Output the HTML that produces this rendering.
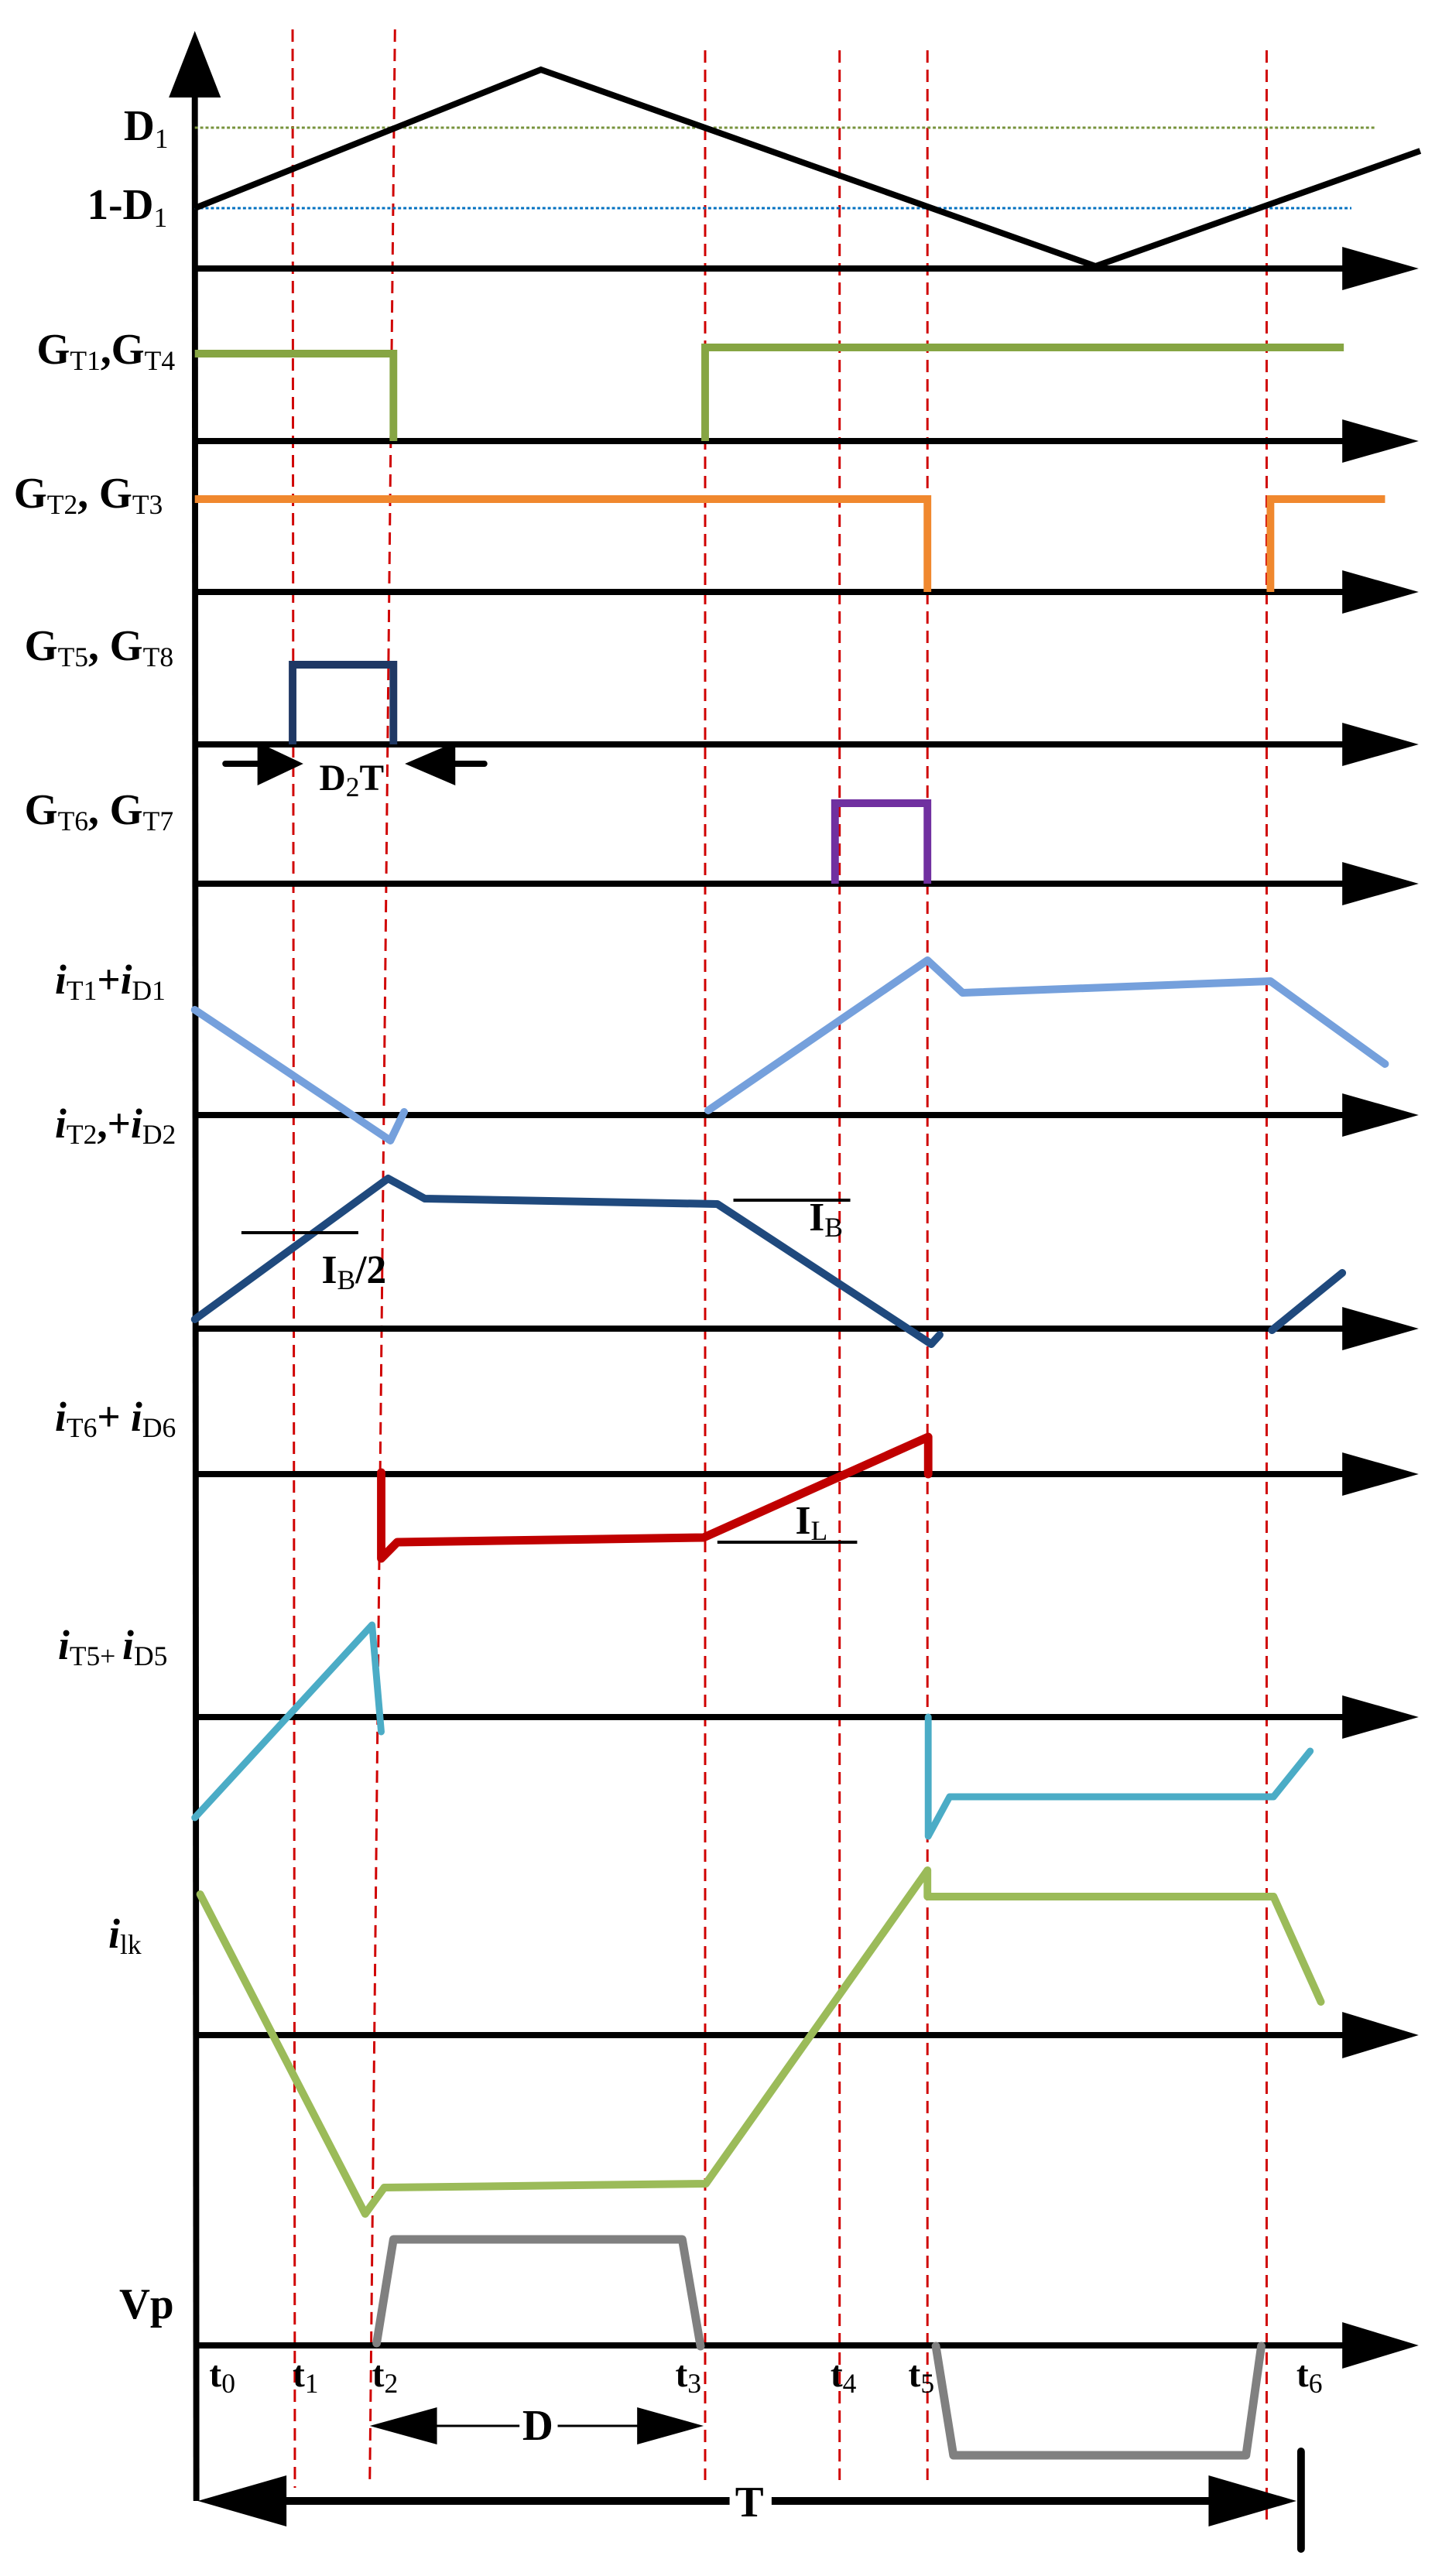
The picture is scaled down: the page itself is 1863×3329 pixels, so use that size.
<!DOCTYPE html>
<html><head><meta charset="utf-8"><style>
html,body{margin:0;padding:0;background:#fff;}
svg{display:block;}
text{font-family:"Liberation Serif",serif;font-weight:bold;fill:#000;}
.s{font-weight:normal;font-size:36px;}
</style></head><body>
<svg width="1863" height="3329" viewBox="0 0 1863 3329" xmlns="http://www.w3.org/2000/svg">
<g transform="scale(0.987 1)">
<!-- red dashed lines -->
<g stroke="#d00000" stroke-width="3" stroke-dasharray="16 9" fill="none">
<line x1="383" y1="38" x2="386" y2="3215"/>
<line x1="517" y1="38" x2="484" y2="3210"/>
<line x1="923" y1="65" x2="923" y2="3205"/>
<line x1="1099" y1="65" x2="1099" y2="3205"/>
<line x1="1214" y1="65" x2="1214" y2="3205"/>
<line x1="1658" y1="65" x2="1658" y2="3258"/>
</g>
<!-- vertical axis -->
<line x1="255" y1="110" x2="257" y2="3232" stroke="#000" stroke-width="8"/>
<polygon points="255,40 221,126 289,126" fill="#000"/>
<!-- horizontal axes -->
<g stroke="#000" stroke-width="8">
<line x1="255" y1="347" x2="1770" y2="347"/>
<line x1="255" y1="570" x2="1770" y2="570"/>
<line x1="255" y1="765" x2="1770" y2="765"/>
<line x1="255" y1="962" x2="1770" y2="962"/>
<line x1="255" y1="1142" x2="1770" y2="1142"/>
<line x1="255" y1="1441" x2="1770" y2="1441"/>
<line x1="255" y1="1717" x2="1770" y2="1717"/>
<line x1="255" y1="1905" x2="1770" y2="1905"/>
<line x1="255" y1="2219" x2="1770" y2="2219"/>
<line x1="255" y1="2630" x2="1770" y2="2630"/>
<line x1="255" y1="3031" x2="1770" y2="3031"/>
</g>
<g fill="#000">
<polygon points="1757,319 1857,347 1757,375"/>
<polygon points="1757,542 1857,570 1757,598"/>
<polygon points="1757,737 1857,765 1757,793"/>
<polygon points="1757,934 1857,962 1757,990"/>
<polygon points="1757,1114 1857,1142 1757,1170"/>
<polygon points="1757,1413 1857,1441 1757,1469"/>
<polygon points="1757,1689 1857,1717 1757,1745"/>
<polygon points="1757,1877 1857,1905 1757,1933"/>
<polygon points="1757,2191 1857,2219 1757,2247"/>
<polygon points="1757,2600 1857,2630 1757,2660"/>
<polygon points="1757,3001 1857,3031 1757,3061"/>
</g>
<!-- reference levels -->
<line x1="255" y1="165" x2="1801" y2="165" stroke="#77933c" stroke-width="3" stroke-dasharray="4 3"/>
<line x1="255" y1="269" x2="1769" y2="269" stroke="#0070c0" stroke-width="3" stroke-dasharray="4 3"/>
<!-- triangle -->
<polyline points="255,269 708,90 1434,344 1859,195" fill="none" stroke="#000" stroke-width="8"/>
<!-- gates -->
<polyline points="255,457 515,457 515,570" fill="none" stroke="#86a543" stroke-width="10"/>
<polyline points="923,570 923,449 1759,449" fill="none" stroke="#86a543" stroke-width="10"/>
<polyline points="255,645 1214,645 1214,765" fill="none" stroke="#f0882e" stroke-width="10"/>
<polyline points="1663,765 1663,645 1813,645" fill="none" stroke="#f0882e" stroke-width="10"/>
<polyline points="383,962 383,859 515,859 515,962" fill="none" stroke="#1f3864" stroke-width="10"/>
<polyline points="1093,1142 1093,1038 1214,1038 1214,1142" fill="none" stroke="#7030a0" stroke-width="10"/>
<!-- D2T arrows -->
<line x1="295" y1="987" x2="350" y2="987" stroke="#000" stroke-width="8" stroke-linecap="round"/>
<polygon points="337,959 397,987 337,1015" fill="#000"/>
<line x1="580" y1="987" x2="634" y2="987" stroke="#000" stroke-width="8" stroke-linecap="round"/>
<polygon points="596,959 530,987 596,1015" fill="#000"/>
<!-- currents -->
<polyline points="255,1305 511,1474 529,1437" fill="none" stroke="#75a0dc" stroke-width="10" stroke-linejoin="round" stroke-linecap="round"/>
<polyline points="927,1435 1214,1241 1260,1283 1663,1268 1813,1375" fill="none" stroke="#75a0dc" stroke-width="10" stroke-linejoin="round" stroke-linecap="round"/>
<polyline points="255,1705 508,1523 556,1549 939,1556 1219,1737 1230,1725" fill="none" stroke="#1f497d" stroke-width="10" stroke-linejoin="round" stroke-linecap="round"/>
<polyline points="1665,1719 1757,1645" fill="none" stroke="#1f497d" stroke-width="10" stroke-linecap="round"/>
<line x1="960" y1="1551" x2="1113" y2="1551" stroke="#000" stroke-width="4"/>
<line x1="316" y1="1593" x2="469" y2="1593" stroke="#000" stroke-width="4"/>
<polyline points="499,1903 499,2014 520,1993 921,1987 1215,1857 1215,1905" fill="none" stroke="#c00000" stroke-width="11" stroke-linejoin="round" stroke-linecap="round"/>
<line x1="939" y1="1993" x2="1122" y2="1993" stroke="#000" stroke-width="4"/>
<polyline points="255,2349 487,2100 499,2238" fill="none" stroke="#4bacc6" stroke-width="9" stroke-linejoin="round" stroke-linecap="round"/>
<polyline points="1215,2219 1215,2373 1243,2322 1667,2322 1715,2263" fill="none" stroke="#4bacc6" stroke-width="9" stroke-linejoin="round" stroke-linecap="round"/>
<polyline points="262,2448 478,2861 503,2827 924,2822 1214,2417 1214,2451 1667,2451 1729,2587" fill="none" stroke="#9bbb59" stroke-width="10" stroke-linejoin="round" stroke-linecap="round"/>
<polyline points="493,3028 515,2894 893,2894 917,3032" fill="none" stroke="#808080" stroke-width="11" stroke-linejoin="round" stroke-linecap="round"/>
<polyline points="1225,3032 1248,3173 1631,3173 1651,3032" fill="none" stroke="#808080" stroke-width="11" stroke-linejoin="round" stroke-linecap="round"/>
<!-- D arrow -->
<line x1="560" y1="3135" x2="846" y2="3135" stroke="#000" stroke-width="3"/>
<polygon points="484,3135 572,3111 572,3159" fill="#000"/>
<polygon points="921,3135 834,3111 834,3159" fill="#000"/>
<rect x="680" y="3105" width="50" height="55" fill="#fff"/>
<!-- T arrow -->
<line x1="330" y1="3232" x2="1630" y2="3232" stroke="#000" stroke-width="10"/>
<polygon points="259,3232 375,3199 375,3265" fill="#000"/>
<polygon points="1697,3232 1582,3199 1582,3265" fill="#000"/>
<line x1="1703" y1="3168" x2="1703" y2="3294" stroke="#000" stroke-width="10" stroke-linecap="round"/>
<rect x="955" y="3205" width="55" height="55" fill="#fff"/>
<!-- labels -->
<text x="162" y="181" font-size="56">D<tspan class="s" dy="10">1</tspan></text>
<text x="114" y="283" font-size="56">1-D<tspan class="s" dy="10">1</tspan></text>
<text x="48" y="470" font-size="56">G<tspan class="s" dy="8">T1</tspan><tspan dy="-8">,G</tspan><tspan class="s" dy="8">T4</tspan></text>
<text x="18" y="656" font-size="56">G<tspan class="s" dy="8">T2</tspan><tspan dy="-8">, G</tspan><tspan class="s" dy="8">T3</tspan></text>
<text x="32" y="853" font-size="56">G<tspan class="s" dy="8">T5</tspan><tspan dy="-8">, G</tspan><tspan class="s" dy="8">T8</tspan></text>
<text x="32" y="1065" font-size="56">G<tspan class="s" dy="8">T6</tspan><tspan dy="-8">, G</tspan><tspan class="s" dy="8">T7</tspan></text>
<text x="418" y="1021" font-size="48">D<tspan class="s" dy="8">2</tspan><tspan dy="-8">T</tspan></text>
<text x="72" y="1284" font-size="54"><tspan font-style="italic">i</tspan><tspan class="s" dy="8">T1</tspan><tspan dy="-8">+</tspan><tspan font-style="italic">i</tspan><tspan class="s" dy="8">D1</tspan></text>
<text x="72" y="1470" font-size="54"><tspan font-style="italic">i</tspan><tspan class="s" dy="8">T2</tspan><tspan dy="-8">,+</tspan><tspan font-style="italic">i</tspan><tspan class="s" dy="8">D2</tspan></text>
<text x="72" y="1849" font-size="54"><tspan font-style="italic">i</tspan><tspan class="s" dy="8">T6</tspan><tspan dy="-8">+ </tspan><tspan font-style="italic">i</tspan><tspan class="s" dy="8">D6</tspan></text>
<text x="76" y="2144" font-size="54"><tspan font-style="italic">i</tspan><tspan class="s" dy="8">T5+ </tspan><tspan dy="-8" font-style="italic">i</tspan><tspan class="s" dy="8">D5</tspan></text>
<text x="142" y="2517" font-size="54"><tspan font-style="italic">i</tspan><tspan class="s" dy="8">lk</tspan></text>
<text x="1059" y="1590" font-size="52">I<tspan class="s" dy="8">B</tspan></text>
<text x="421" y="1658" font-size="52">I<tspan class="s" dy="8">B</tspan><tspan dy="-8">/2</tspan></text>
<text x="1041" y="1982" font-size="52">I<tspan class="s" dy="8">L</tspan></text>
<text x="156" y="2996" font-size="56">Vp</text>
<text x="274" y="3084" font-size="48">t<tspan class="s" dy="8">0</tspan></text>
<text x="383" y="3084" font-size="48">t<tspan class="s" dy="8">1</tspan></text>
<text x="487" y="3084" font-size="48">t<tspan class="s" dy="8">2</tspan></text>
<text x="884" y="3084" font-size="48">t<tspan class="s" dy="8">3</tspan></text>
<text x="1087" y="3084" font-size="48">t<tspan class="s" dy="8">4</tspan></text>
<text x="1189" y="3084" font-size="48">t<tspan class="s" dy="8">5</tspan></text>
<text x="1697" y="3084" font-size="48">t<tspan class="s" dy="8">6</tspan></text>
<text x="704" y="3153" font-size="56" text-anchor="middle">D</text>
<text x="981" y="3252" font-size="56" text-anchor="middle">T</text>
</g>
</svg>
</body></html>
